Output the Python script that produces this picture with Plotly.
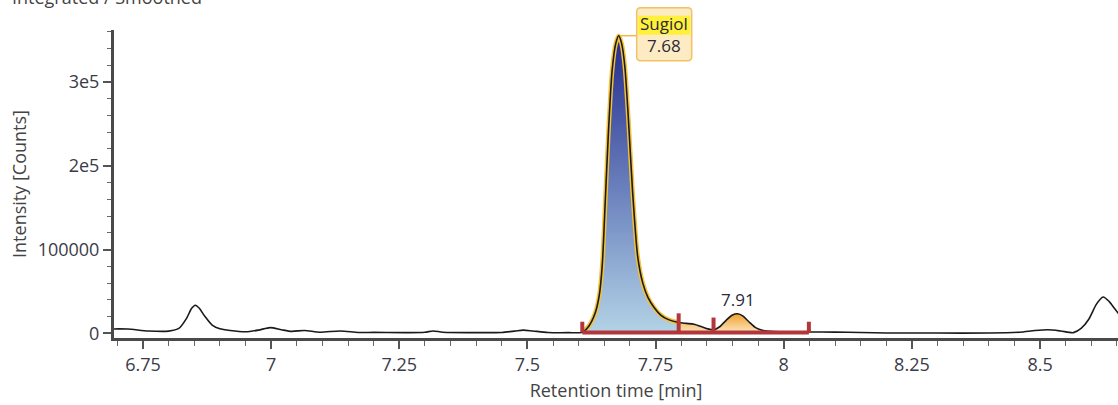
import numpy as np
import plotly.graph_objects as go

# ---------------- data ----------------
ret_time = [6.69, 6.72, 6.76, 6.80, 6.82, 6.835, 6.845, 6.852, 6.86, 6.87, 6.885, 6.90,
            6.92, 6.95, 6.975, 6.998, 7.02, 7.04, 7.065, 7.095, 7.135, 7.17, 7.20, 7.27,
            7.30, 7.316, 7.335, 7.40, 7.45, 7.475, 7.492, 7.51, 7.54, 7.58, 7.607, 7.62,
            7.632, 7.640, 7.646, 7.652, 7.658, 7.665, 7.672, 7.678, 7.684, 7.690, 7.697,
            7.705, 7.715, 7.725, 7.735, 7.747, 7.76, 7.775, 7.795, 7.81, 7.825, 7.84,
            7.852, 7.863, 7.875, 7.888, 7.90, 7.91, 7.92, 7.932, 7.945, 7.96, 7.98, 8.01,
            8.049, 8.10, 8.15, 8.20, 8.30, 8.40, 8.46, 8.49, 8.515, 8.54, 8.565, 8.58,
            8.595, 8.61, 8.623, 8.635, 8.645, 8.655]
intensity = [5400, 5300, 3000, 2800, 6000, 18000, 30000, 33700, 30000, 21000, 10000, 5500,
             3500, 2000, 4000, 7000, 4500, 2500, 3600, 1500, 3000, 1200, 1300, 1000,
             1500, 3000, 1500, 1000, 1200, 2800, 4000, 3000, 1200, 1000, 1500, 9000,
             24000, 45000, 82000, 160000, 240000, 312000, 345000, 355000, 345000, 318000, 255000,
             170000, 92000, 60000, 43000, 31000, 22000, 16500, 13000, 12000, 11000, 8000,
             5500, 4500, 8000, 16000, 22000, 23500, 21000, 14000, 7000, 3500, 2200, 1800,
             1800, 1600, 1200, 600, 500, 500, 1500, 3500, 4400, 3000, 1000, 6000,
             17000, 35000, 43500, 38000, 30000, 22000]

sugiol_range = [7.607, 7.795]          # integrated main peak
minor_range = [7.795, 8.049]           # integrated minor region
integration_bounds = [7.607, 7.795, 7.863, 8.049]
bound_marker_tops = [14000, 24000, 19000, 14000]
integration_baseline = 1200

peak_name = "Sugiol"
peak_rt_label = "7.68"
peak_time = 7.678
peak_height = 355000
minor_label = "7.91"
minor_time = 7.91
minor_height = 23500

x_range = [6.6935, 8.652]
y_range = [-5400, 361800]
x_tickvals = [6.75, 7.0, 7.25, 7.5, 7.75, 8.0, 8.25, 8.5]
x_ticktext = ["6.75", "7", "7.25", "7.5", "7.75", "8", "8.25", "8.5"]
y_tickvals = [0, 100000, 200000, 300000]
y_ticktext = ["0", "100000", "2e5", "3e5"]

FONT = "Open Sans"
TXT = "#3b3b48"
FS = 18

t = np.array(ret_time)
y = np.array(intensity)


def segment(a, b):
    m = (t >= a - 1e-9) & (t <= b + 1e-9)
    return t[m], y[m]


fig = go.Figure()

# blue filled main peak
sx, sy = segment(*sugiol_range)
fig.add_trace(go.Scatter(
    x=sx, y=sy, mode="lines", fill="tozeroy", line=dict(width=0, shape="spline", smoothing=0.7),
    fillgradient=dict(type="vertical", start=0, stop=float(sy.max()),
                      colorscale=[[0, "#b3d3e6"], [0.45, "#6f86c0"], [1, "#232a8c"]]),
    hoverinfo="skip", showlegend=False))

# orange filled minor region
ox, oy = segment(*minor_range)
fig.add_trace(go.Scatter(
    x=ox, y=oy, mode="lines", fill="tozeroy", line=dict(width=0, shape="spline", smoothing=0.7),
    fillgradient=dict(type="vertical", start=0, stop=float(oy.max()),
                      colorscale=[[0, "#fde8c6"], [1, "#f0a22e"]]),
    hoverinfo="skip", showlegend=False))

# yellow outline of the identified peak
fig.add_trace(go.Scatter(
    x=sx, y=sy, mode="lines", line=dict(color="#f4c23a", width=4.5, shape="spline", smoothing=0.7),
    hoverinfo="skip", showlegend=False))

# chromatogram trace
fig.add_trace(go.Scatter(
    x=t, y=y, mode="lines", line=dict(color="#1a1a1a", width=1.6, shape="spline", smoothing=0.7),
    showlegend=False))

# integration markers
rx = [integration_bounds[0], integration_bounds[-1], None]
ry = [integration_baseline, integration_baseline, None]
for b, top in zip(integration_bounds, bound_marker_tops):
    rx += [b, b, None]
    ry += [integration_baseline, top, None]
fig.add_trace(go.Scatter(x=rx, y=ry, mode="lines", line=dict(color="#b2363a", width=4),
                         hoverinfo="skip", showlegend=False))

# ---- peak label box (pixel-sized shapes anchored at the apex, paper refs so not clipped) ----
ax_paper = (peak_time - x_range[0]) / (x_range[1] - x_range[0])
ay_paper = (peak_height - y_range[0]) / (y_range[1] - y_range[0])
bx0, bx1, by0, by1, r = 18, 73, -25, 28, 4
box_path = (f"M {bx0 + r},{by0} L {bx1 - r},{by0} Q {bx1},{by0} {bx1},{by0 + r} "
            f"L {bx1},{by1 - r} Q {bx1},{by1} {bx1 - r},{by1} L {bx0 + r},{by1} "
            f"Q {bx0},{by1} {bx0},{by1 - r} L {bx0},{by0 + r} Q {bx0},{by0} {bx0 + r},{by0} Z")
common = dict(xref="paper", yref="paper", xsizemode="pixel", ysizemode="pixel",
              xanchor=ax_paper, yanchor=ay_paper, layer="above")
fig.add_shape(type="line", x0=2, x1=bx0, y0=0, y1=0,
              line=dict(color="#f2b84a", width=1.5), **common)
fig.add_shape(type="path", path=box_path, fillcolor="#fdebc4",
              line=dict(color="#f2c262", width=1.5), **common)
fig.add_shape(type="rect", x0=bx0 + 1.5, x1=bx1 - 1.5, y0=1, y1=20,
              fillcolor="#fff03a", line=dict(width=0), **common)
fig.add_annotation(x=peak_time, y=peak_height, xref="x", yref="y",
                   text=f"{peak_name}<br>{peak_rt_label}", showarrow=False,
                   xshift=(bx0 + bx1) / 2, yshift=(by0 + by1) / 2 - 0.5,
                   font=dict(family=FONT, size=17, color="#2a2a3a"))

fig.add_annotation(x=minor_time, y=minor_height, xref="x", yref="y", text=minor_label,
                   showarrow=False, yanchor="bottom", yshift=1,
                   font=dict(family=FONT, size=17, color="#2a2a3a"))

# clipped header
fig.add_annotation(x=0, y=1, xref="paper", yref="paper", xanchor="left", yanchor="top",
                   xshift=-104, yshift=47, text="Integrated / Smoothed", showarrow=False,
                   font=dict(family=FONT, size=FS, color="#444"))

fig.update_layout(
    width=1118, height=405, autosize=False,
    margin=dict(l=114, r=0, t=30, b=67),
    paper_bgcolor="white", plot_bgcolor="white",
    font=dict(family=FONT, size=FS, color=TXT),
    xaxis=dict(range=x_range, tickmode="array", tickvals=x_tickvals, ticktext=x_ticktext,
               ticks="outside", ticklen=8, tickwidth=1.5, tickcolor="#555",
               showline=True, linewidth=3, linecolor="#4a4a4a", showgrid=False, zeroline=False,
               minor=dict(tickmode="linear", tick0=6.75, dtick=0.05, ticks="outside",
                          ticklen=5, tickwidth=1.2, tickcolor="#666"),
               tickfont=dict(family=FONT, size=FS, color=TXT),
               title=dict(text="Retention time [min]", font=dict(family=FONT, size=FS, color="#444"),
                          standoff=10)),
    yaxis=dict(range=y_range, tickmode="array", tickvals=y_tickvals, ticktext=y_ticktext,
               ticks="outside", ticklen=8, tickwidth=1.5, tickcolor="#555",
               showline=True, linewidth=3, linecolor="#4a4a4a", showgrid=False, zeroline=False,
               minor=dict(tickmode="linear", tick0=0, dtick=20000, ticks="outside",
                          ticklen=4, tickwidth=1.2, tickcolor="#666"),
               tickfont=dict(family=FONT, size=FS, color=TXT),
               title=dict(text="Intensity [Counts]", font=dict(family=FONT, size=FS, color="#444"),
                          standoff=7)),
)

fig.write_html("out.html")
